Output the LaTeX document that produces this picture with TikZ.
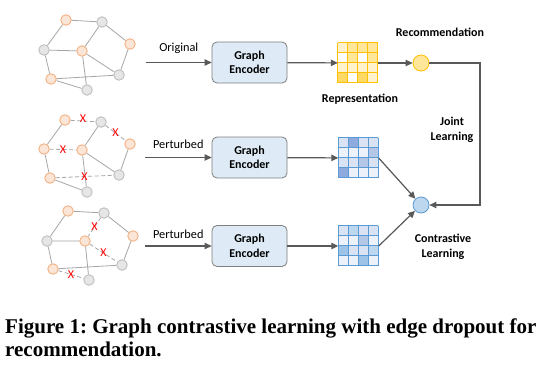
\documentclass[tikz,border=0pt]{standalone}
\usepackage{fontspec}
\setmainfont{Liberation Serif}
\newfontfamily\diagfont{Carlito}
\usetikzlibrary{arrows.meta,calc}
\frenchspacing
\definecolor{orfill}{HTML}{FBE5D6}
\definecolor{ordraw}{HTML}{F4B183}
\definecolor{gyfill}{HTML}{E7E6E6}
\definecolor{gydraw}{HTML}{BFBFBF}
\definecolor{edgec}{HTML}{A6A6A6}
\definecolor{arrc}{HTML}{595959}
\definecolor{encfill}{HTML}{DEEBF7}
\definecolor{encdraw}{HTML}{7F7F7F}
\definecolor{yW}{HTML}{FFFFFF}
\definecolor{yL}{HTML}{FFF2CC}
\definecolor{yM}{HTML}{FFE699}
\definecolor{yD}{HTML}{FFD966}
\definecolor{ybor}{HTML}{FFC000}
\definecolor{bW}{HTML}{EDF2FA}
\definecolor{bL}{HTML}{DAE3F3}
\definecolor{bM}{HTML}{B4C7E7}
\definecolor{bS}{HTML}{BDD7EE}
\definecolor{bT}{HTML}{9DC3E6}
\definecolor{bD}{HTML}{8FAADC}
\definecolor{bbor}{HTML}{5B9BD5}
\tikzset{
  onode/.style={circle,fill=orfill,draw=ordraw,line width=0.9pt,minimum size=10.5pt,inner sep=0pt},
  gnode/.style={circle,fill=gyfill,draw=gydraw,line width=0.9pt,minimum size=10.5pt,inner sep=0pt},
  gedge/.style={draw=edgec,line width=0.8pt},
  dedge/.style={draw=edgec,line width=0.8pt,dash pattern=on 4pt off 2.5pt},
  xmark/.style={text=red,font=\diagfont\fontsize{12}{12}\selectfont,inner sep=0pt},
  conn/.style={draw=arrc,line width=1.2pt,-{Triangle[length=7pt,width=6.5pt]}},
  encbox/.style={rectangle,rounded corners=5pt,fill=encfill,draw=encdraw,line width=0.8pt,minimum width=75pt,minimum height=41pt,align=center,font=\diagfont\bfseries\fontsize{12}{14.5}\selectfont},
  lbl/.style={font=\diagfont\fontsize{12.3}{14}\selectfont,inner sep=0pt},
  blbl/.style={font=\diagfont\bfseries\fontsize{12}{15}\selectfont,inner sep=0pt,align=center},
  matbox/.style={rectangle,minimum size=40pt,inner sep=0pt},
  ycirc/.style={circle,fill=yM,draw=ybor,line width=0.8pt,minimum size=16pt,inner sep=0pt},
  bcirc/.style={circle,fill=bS,draw=bbor,line width=0.8pt,minimum size=16pt,inner sep=0pt},
  capfont/.style={anchor=base west,inner sep=0pt,font=\bfseries\fontsize{21}{23}\selectfont}
}
\begin{document}
\begin{tikzpicture}[x=1pt,y=-1pt]
\useasboundingbox (0,0) rectangle (545,369);
\fill[white] (0,0) rectangle (545,369);

% ---------- Graph 1 ----------
\node[onode] (a1) at (66,20) {};
\node[gnode] (b1) at (102,22) {};
\node[onode] (c1) at (130,44) {};
\node[gnode] (d1) at (44,50) {};
\node[onode] (e1) at (82,51) {};
\node[gnode] (f1) at (119,75) {};
\node[onode] (g1) at (51,79) {};
\node[gnode] (h1) at (87,90) {};
\draw[gedge] (a1)--(b1) (a1)--(d1) (b1)--(e1) (b1)--(c1) (c1)--(f1) (d1)--(e1) (d1)--(g1) (e1)--(f1) (e1)--(h1) (g1)--(f1) (g1)--(h1);

% ---------- Graph 2 ----------
\node[onode] (a2) at (65,120) {};
\node[gnode] (b2) at (101,122) {};
\node[onode] (c2) at (130,144) {};
\node[onode] (d2) at (44,149) {};
\node[onode] (e2) at (82,150) {};
\node[gnode] (f2) at (119,175) {};
\node[onode] (g2) at (50,178) {};
\node[gnode] (h2) at (87,192) {};
\draw[gedge] (a2)--(d2) (b2)--(e2) (c2)--(f2) (e2)--(f2) (e2)--(h2) (g2)--(h2) (d2)--(g2);
\draw[dedge] (a2)--(b2) node[midway,xmark,yshift=2pt] {X};
\draw[dedge] (b2)--(c2) node[midway,xmark] {X};
\draw[dedge] (d2)--(e2) node[midway,xmark] {X};
\draw[dedge] (g2)--(f2) node[midway,xmark] {X};

% ---------- Graph 3 ----------
\node[onode] (a3) at (68,211) {};
\node[gnode] (b3) at (104,213) {};
\node[onode] (c3) at (133,236) {};
\node[gnode] (d3) at (47,241) {};
\node[onode] (e3) at (85,241) {};
\node[gnode] (f3) at (122,265) {};
\node[onode] (g3) at (53,269) {};
\node[gnode] (h3) at (89,280) {};
\draw[gedge] (a3)--(b3) (a3)--(d3) (b3)--(c3) (c3)--(f3) (d3)--(e3) (d3)--(g3) (e3)--(h3) (g3)--(f3);
\draw[dedge] (b3)--(e3) node[midway,xmark] {X};
\draw[dedge] (e3)--(f3) node[midway,xmark] {X};
\draw[dedge] (g3)--(h3) node[midway,xmark] {X};

% ---------- Encoders ----------
\node[encbox] (enc1) at (249.5,62.5) {Graph\\Encoder};
\node[encbox] (enc2) at (249.5,157.5) {Graph\\Encoder};
\node[encbox] (enc3) at (249.5,246) {Graph\\Encoder};

\coordinate (s1) at (146,62.5);
\coordinate (s2) at (145,157.5);
\coordinate (s3) at (145,246);
\draw[conn] (s1) -- (enc1) node[midway,lbl,above=8pt] {Original};
\draw[conn] (s2) -- (enc2) node[midway,lbl,above=8pt] {Perturbed};
\draw[conn] (s3) -- (enc3) node[midway,lbl,above=7pt] {Perturbed};

% ---------- Matrices ----------
\node[matbox] (m1) at (358,63) {};
\node[matbox] (m2) at (358.5,158) {};
\node[matbox] (m3) at (358.5,246) {};

\foreach \c [count=\i from 0] in {yL,yM,yM,yM, yW,yM,yW,yM, yL,yL,yL,yL, yD,yW,yD,yL}{
  \pgfmathtruncatemacro{\col}{mod(\i,4)}
  \pgfmathtruncatemacro{\row}{int(\i/4)}
  \fill[\c] ($(m1.north west)+(10*\col,10*\row)$) rectangle ++(10,10);
}
\foreach \c [count=\i from 0] in {bL,bD,bL,bL, bW,bW,bW,bM, bL,bL,bM,bL, bD,bW,bW,bW}{
  \pgfmathtruncatemacro{\col}{mod(\i,4)}
  \pgfmathtruncatemacro{\row}{int(\i/4)}
  \fill[\c] ($(m2.north west)+(10*\col,10*\row)$) rectangle ++(10,10);
}
\foreach \c [count=\i from 0] in {bL,bS,bL,bL, bW,bW,bM,bW, bT,bL,bL,bS, bW,bW,bT,bW}{
  \pgfmathtruncatemacro{\col}{mod(\i,4)}
  \pgfmathtruncatemacro{\row}{int(\i/4)}
  \fill[\c] ($(m3.north west)+(10*\col,10*\row)$) rectangle ++(10,10);
}
\foreach \m/\bc in {m1/ybor,m2/bbor,m3/bbor}{
  \foreach \k in {0,...,4}{
    \draw[\bc,line width=1pt] ($(\m.north west)+(10*\k,0)$) -- ++(0,40);
    \draw[\bc,line width=1pt] ($(\m.north west)+(0,10*\k)$) -- ++(40,0);
  }
}

\draw[conn] (enc1) -- (m1);
\draw[conn] (enc2) -- (m2);
\draw[conn] (enc3) -- (m3);

% ---------- Circles ----------
\node[ycirc] (rc) at (421,63) {};
\node[bcirc] (cc) at (421,205) {};
\draw[conn] (m1) -- (rc);
\draw[conn] (m2.east) -- (cc);
\draw[conn] (m3.east) -- (cc);
\coordinate (j1) at (480,63);
\coordinate (j2) at (480,205);
\draw[conn] (rc) -- (j1) -- (j2) -- (cc);

% ---------- Labels ----------
\node[blbl] (lrec) at (440,32) {Recommendation};
\node[blbl] (lrep) at (360,99) {Representation};
\node[blbl] (ljoint) at (452,129.5) {Joint\\Learning};
\node[blbl] (lcon) at (443,247) {Contrastive\\Learning};

% ---------- Caption ----------
\node[capfont] (cap1) at (5,333) {Figure 1: Graph contrastive learning with edge dropout for};
\node[capfont] (cap2) at (5,356) {recommendation.};
\end{tikzpicture}
\end{document}
